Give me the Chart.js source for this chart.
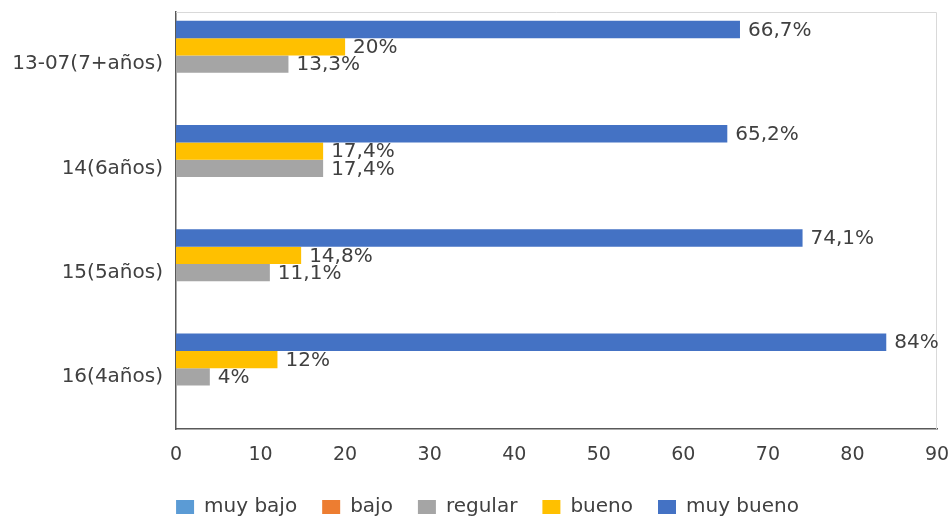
<!DOCTYPE html>
<html>
<head>
<meta charset="utf-8">
<script src="https://cdn.jsdelivr.net/npm/chart.js@4"></script>
<style>
  html, body { margin: 0; padding: 0; background: #fff; }
  #wrap { width: 952px; height: 521px; }
</style>
</head>
<body>
<div id="wrap"><canvas id="chart"></canvas></div>
<script>
// categories, top to bottom as in the picture
const categories = ['13-07(7+años)', '14(6años)', '15(5años)', '16(4años)'];
const muyBueno = [66.7, 65.2, 74.1, 84];
const bueno = [20, 17.4, 14.8, 12];
const regular = [13.3, 17.4, 11.1, 4];
const bajo = [null, null, null, null];
const muyBajo = [null, null, null, null];
const xTicks = [0, 10, 20, 30, 40, 50, 60, 70, 80, 90];

const textColor = '#404040';
const fontFamily = '"DejaVu Sans", sans-serif';

// plot frame: light border top/right like the spreadsheet chart
const frame = {
  id: 'frame',
  beforeDatasetsDraw(chart) {
    const {ctx, chartArea: a} = chart;
    ctx.save();
    ctx.strokeStyle = '#d9d9d9';
    ctx.lineWidth = 1;
    ctx.beginPath();
    ctx.moveTo(a.left, a.top + 0.5);
    ctx.lineTo(a.right - 0.5, a.top + 0.5);
    ctx.lineTo(a.right - 0.5, a.bottom);
    ctx.stroke();
    ctx.restore();
  }
};

// legend sits a bit right of the canvas centre in the original
const legendShift = {
  id: 'legendShift',
  afterLayout(chart) {
    chart.legend.left += 19;
    chart.legend.right += 19;
  }
};

// value labels after each bar end
const barLabels = {
  id: 'barLabels',
  afterDatasetsDraw(chart) {
    const {ctx} = chart;
    ctx.save();
    ctx.font = '20px ' + fontFamily;
    ctx.fillStyle = textColor;
    ctx.textAlign = 'left';
    ctx.textBaseline = 'middle';
    chart.data.datasets.forEach((ds, i) => {
      const meta = chart.getDatasetMeta(i);
      meta.data.forEach((bar, j) => {
        const v = ds.data[j];
        if (v === null || v === undefined) return;
        const txt = String(v).replace('.', ',') + '%';
        ctx.fillText(txt, bar.x + 8, bar.y + 1);
      });
    });
    ctx.restore();
  }
};

new Chart(document.getElementById('chart'), {
  type: 'bar',
  data: {
    labels: categories,
    datasets: [
      {label: 'muy bueno', data: muyBueno, backgroundColor: '#4472C4'},
      {label: 'bueno', data: bueno, backgroundColor: '#FFC000'},
      {label: 'regular', data: regular, backgroundColor: '#A5A5A5'},
      {label: 'bajo', data: bajo, backgroundColor: '#ED7D31'},
      {label: 'muy bajo', data: muyBajo, backgroundColor: '#5B9BD5'}
    ]
  },
  options: {
    indexAxis: 'y',
    responsive: true,
    maintainAspectRatio: false,
    animation: false,
    datasets: {
      bar: {categoryPercentage: 0.83, barPercentage: 1}
    },
    layout: {padding: {top: 12, right: 15, left: 0, bottom: -6}},
    scales: {
      x: {
        min: 0,
        max: 90,
        afterBuildTicks: (axis) => { axis.ticks = xTicks.map(v => ({value: v})); },
        afterFit: (axis) => {
          axis.height = 43;
          axis.paddingLeft = 0;
          axis.paddingRight = 0;
        },
        grid: {display: false, drawTicks: false},
        border: {display: true, color: '#595959', width: 1.5},
        ticks: {color: textColor, padding: 15, font: {family: fontFamily, size: 19}}
      },
      y: {
        afterFit: (axis) => {
          axis.width = 176;
          axis.paddingTop = 0;
          axis.paddingBottom = 0;
        },
        grid: {display: false, drawTicks: false},
        border: {display: true, color: '#595959', width: 1.5},
        ticks: {color: textColor, padding: 13, font: {family: fontFamily, size: 20}}
      }
    },
    plugins: {
      legend: {
        position: 'bottom',
        reverse: true,
        labels: {
          boxWidth: 18,
          boxHeight: 14,
          padding: 25,
          color: textColor,
          font: {family: fontFamily, size: 20}
        }
      },
      tooltip: {enabled: false}
    }
  },
  plugins: [frame, legendShift, barLabels]
});
</script>
</body>
</html>
